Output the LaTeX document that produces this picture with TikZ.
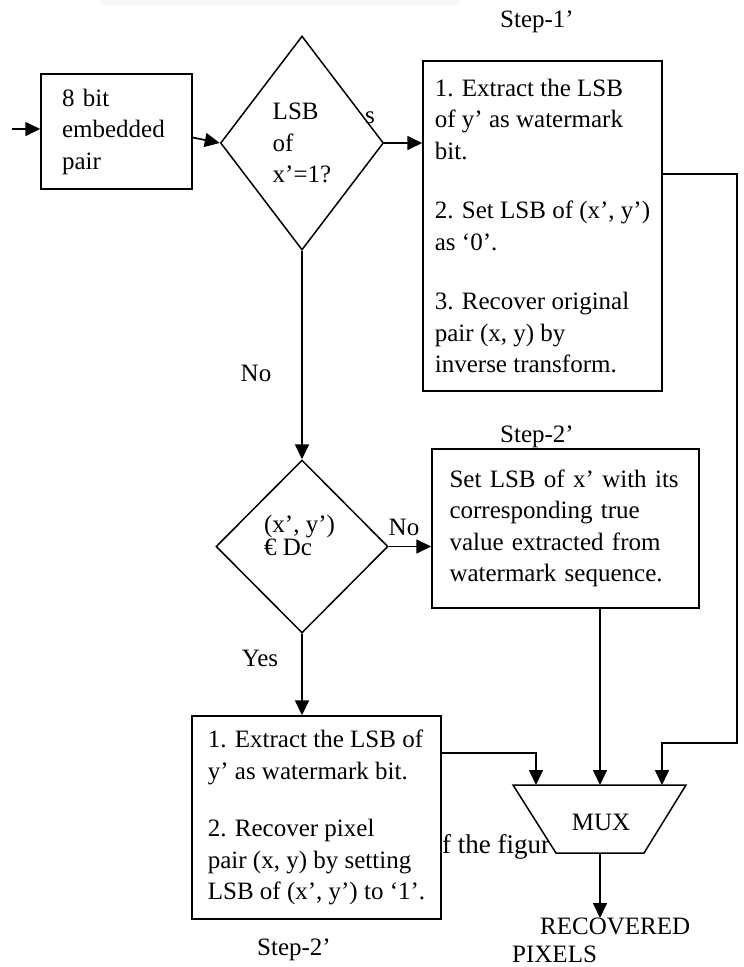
\documentclass[tikz,border=0pt]{standalone}
\usepackage{fontspec}
\setmainfont{Liberation Serif}
\usepackage{tikz}
\usetikzlibrary{arrows.meta, positioning, shapes.geometric, calc}

\newcommand{\figfont}{\fontsize{25}{31.5}\selectfont}

\begin{document}
\begin{tikzpicture}[
    x=1pt, y=-1pt,
    box/.style={draw, rectangle, line width=1.5pt, inner sep=0pt, align=left, font=\figfont},
    dia/.style={draw, diamond, line width=1.5pt, inner sep=0pt, align=left, font=\figfont},
    lbl/.style={inner sep=0pt, font=\figfont},
    arrow/.style={-{Triangle[length=15pt, width=14pt]}, line width=1.7pt}
]
    \useasboundingbox (0,0) rectangle (744,967);
    \fill[black!3] (100,0) rectangle (460,5);

    % input and first test
    \coordinate (start) at (12,129);
    \node[box, minimum width=151pt, minimum height=115pt, text width=109pt] (pair) at (116.5,131.5) {8 bit\\embedded\\pair};
    \node[dia, minimum width=163pt, minimum height=214pt] (lsbchk) at (302,143) {LSB\\of\\x'=1?};
    \node[lbl] (yescut) at (370,118) {s};

    % step 1
    \node[lbl] (steponelbl) at (537,22) {Step-1'};
    \node[box, minimum width=239pt, minimum height=330pt] (stepone) at (542.5,226) {1. Extract the LSB\\of y' as watermark\\bit.\\[28pt]2. Set LSB of (x', y')\\as `0'.\\[28pt]3. Recover original\\pair (x, y) by\\inverse transform.};

    % second test
    \node[lbl] (nodown) at (256,373) {No};
    \node[dia, minimum width=172pt, minimum height=173pt] (dcchk) at (302,546.5) {};
    \node[lbl, align=left, font=\fontsize{25}{20.5}\selectfont] (dctext) at (299.5,535) {(x', y')\\€ Dc};
    \node[lbl] (noright) at (404,527) {No};
    \node[lbl] (yesdown) at (260,658) {Yes};

    % step 2 boxes
    \node[lbl] (steptwolbl) at (537,437) {Step-2'};
    \node[box, minimum width=267pt, minimum height=159pt, text width=232pt] (steptwo) at (565.5,528.5) {Set LSB of x' with its\\corresponding true\\value extracted from\\watermark sequence.};
    \node[box, minimum width=249pt, minimum height=203pt] (setone) at (316.5,817.5) {1. Extract the LSB of\\y' as watermark bit.\\[26pt]2. Recover pixel\\pair (x, y) by setting\\LSB of (x', y') to `1'.};
    \node[lbl] (steptwobot) at (294,950) {Step-2'};

    % multiplexer
    \node[lbl, font=\fontsize{27}{31.5}\selectfont, anchor=west] (figcut) at (442,847) {f the figur};
    \coordinate (muxtl) at (513,785);
    \coordinate (muxtr) at (686,785);
    \coordinate (muxbr) at (644,853);
    \coordinate (muxbl) at (556,853);
    \filldraw[fill=white, line width=1.5pt] (muxtl) -- (muxtr) -- (muxbr) -- (muxbl) -- cycle;
    \node[lbl] (mux) at (601,822) {MUX};
    \coordinate (muxina) at (536,785);
    \coordinate (muxinb) at (600,785);
    \coordinate (muxinc) at (662,785);
    \coordinate (muxout) at (600,853);
    \node[lbl, align=left, anchor=north west, font=\fontsize{25}{28}\selectfont] (recpix) at (512,918) {\hspace*{28pt}RECOVERED\\PIXELS};

    \draw[arrow] (start) -- (start -| pair.west);
    \draw[arrow] ([yshift=-6pt]pair.east) -- (lsbchk.west);
    \draw[arrow] (lsbchk.east) -- (lsbchk.east -| stepone.west);
    \draw[arrow] (lsbchk.south) -- (dcchk.north);
    \draw[arrow] (dcchk.east) -- (dcchk.east -| steptwo.west);
    \draw[arrow] (dcchk.south) -- (dcchk.south |- setone.north);
    \draw[arrow] (stepone.east |- 0,174) -| (737,743) -| (muxinc);
    \draw[arrow] (steptwo.south -| muxinb) -- (muxinb);
    \draw[arrow] (setone.east |- 0,753) -| (muxina);
    \draw[arrow] (muxout) -- (muxout |- recpix.north);
\end{tikzpicture}
\end{document}
